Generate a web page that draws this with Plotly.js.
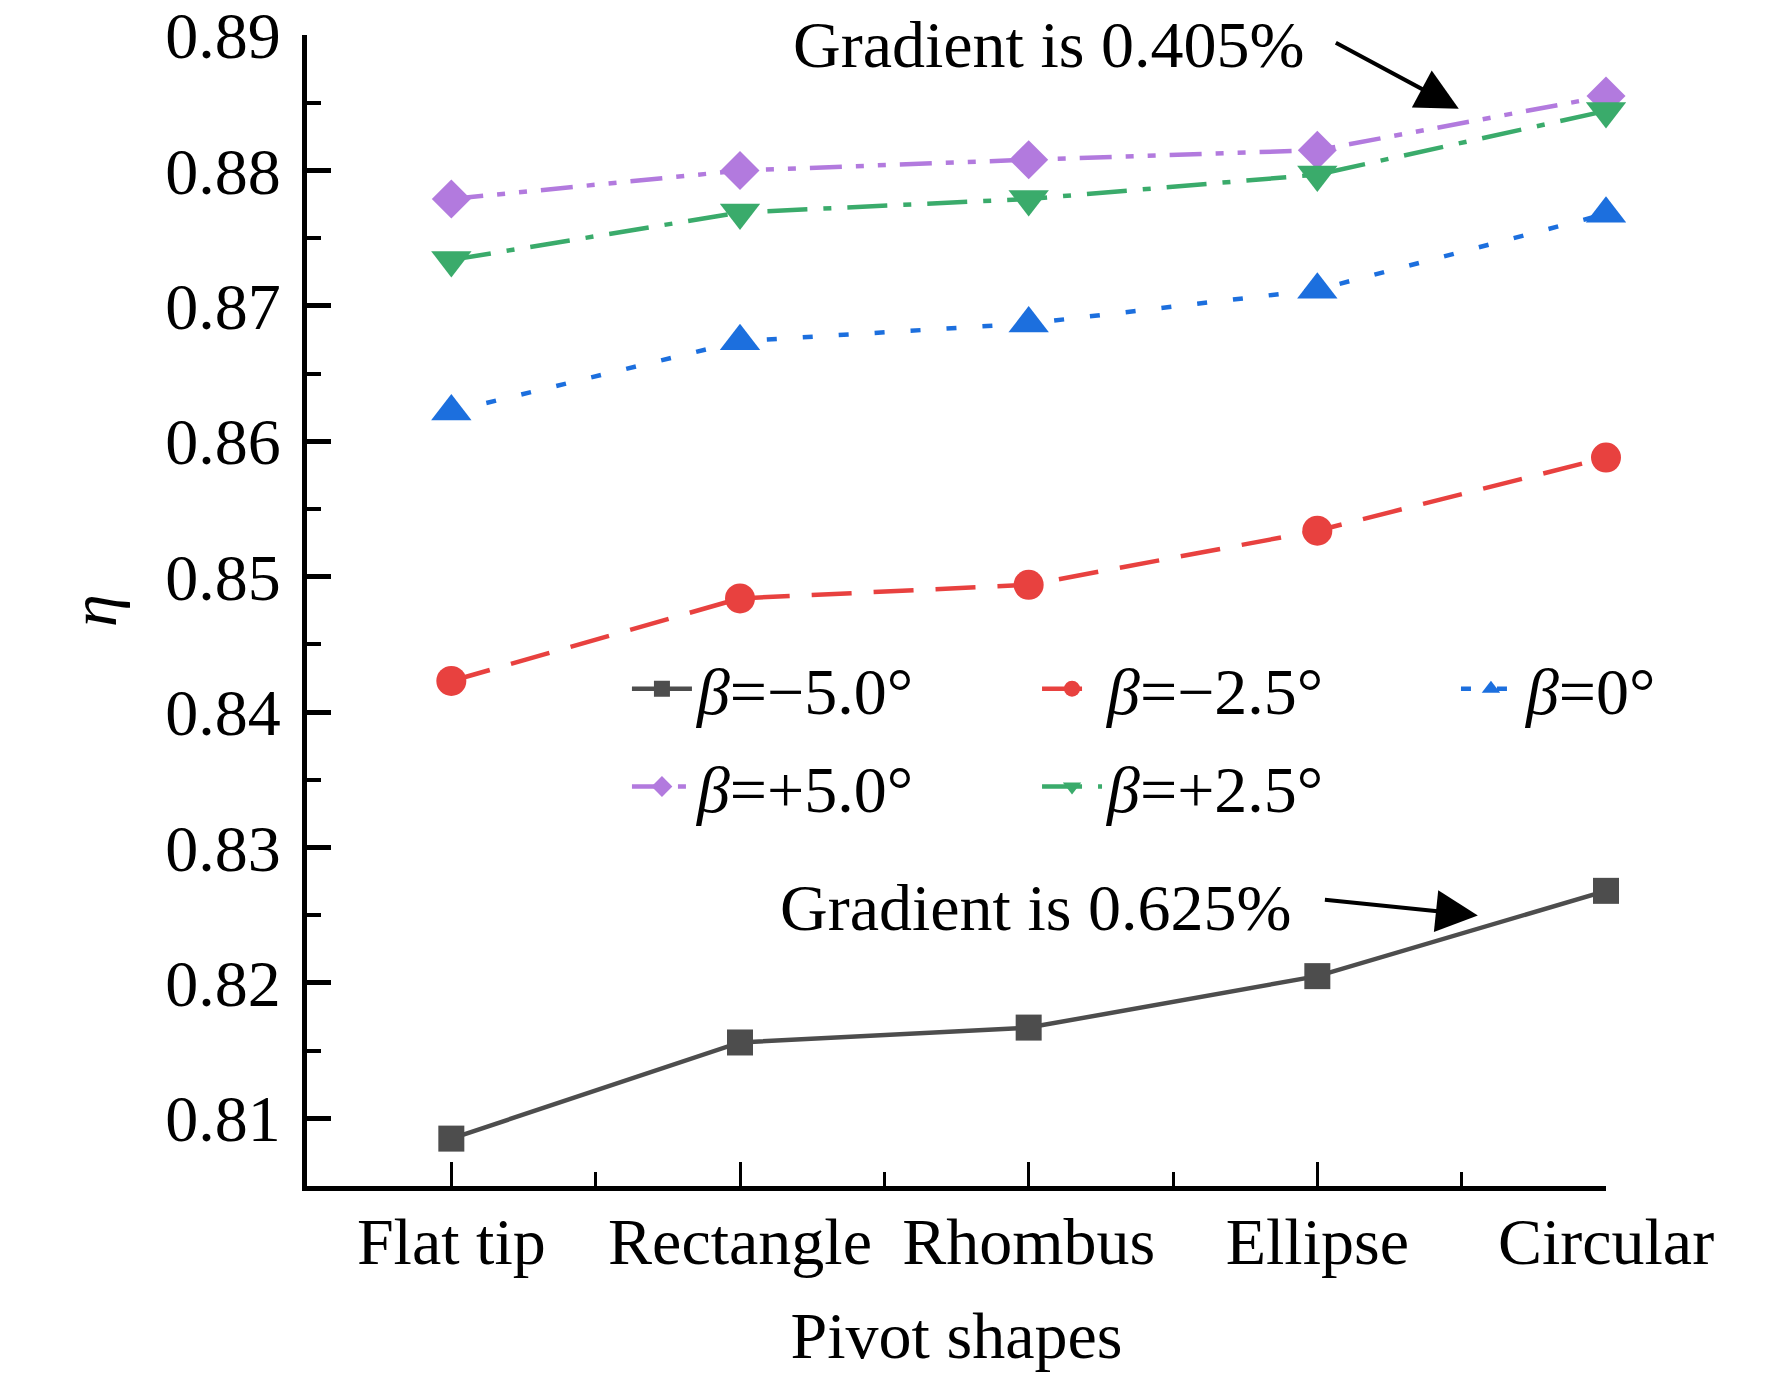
<!DOCTYPE html>
<html>
<head>
<meta charset="utf-8">
<script src="https://cdn.plot.ly/plotly-3.0.1.min.js"></script>
<style>
  html, body { margin: 0; padding: 0; background: #fff; }
  #myPlot { width: 1772px; height: 1378px; }
</style>
</head>
<body>
<div id="myPlot"></div>
<script>
// pivot shapes on the x axis
const shapes = ["Flat tip", "Rectangle", "Rhombus", "Ellipse", "Circular"];
const xPos = [0, 1, 2, 3, 4];
const yTicks = [0.81, 0.82, 0.83, 0.84, 0.85, 0.86, 0.87, 0.88, 0.89];

// efficiency eta for each blade angle
const etaMinus50 = [0.8085, 0.8156, 0.8167, 0.8205, 0.8268];
const etaMinus25 = [0.8423, 0.8484, 0.8494, 0.8534, 0.8588];
const etaZero = [0.8622, 0.8674, 0.8687, 0.8712, 0.8768];
const etaPlus50 = [0.8779, 0.8800, 0.8808, 0.8815, 0.8855];
const etaPlus25 = [0.8734, 0.8769, 0.8779, 0.8797, 0.8844];

const names = ["<i>β</i>=−5.0°", "<i>β</i>=−2.5°", "<i>β</i>=0°", "<i>β</i>=+5.0°", "<i>β</i>=+2.5°"];

var font = "Liberation Serif, Times New Roman, serif";

const lineMinus50 = {
  x: xPos, y: etaMinus50, name: names[0], legend: "legend", legendgroup: "a",
  mode: "lines+markers", cliponaxis: false,
  line: { color: "#4d4d4d", width: 4.5 },
  marker: { symbol: "square", size: 26, color: "#4d4d4d" },
};
const lineMinus25 = {
  x: xPos, y: etaMinus25, name: names[1], legend: "legend2", legendgroup: "b",
  mode: "lines+markers", cliponaxis: false,
  line: { color: "#e8413f", width: 4.5, dash: "40px,22px" },
  marker: { symbol: "circle", size: 30, color: "#e8413f" },
};
const lineZero = {
  x: xPos, y: etaZero, name: names[2], legend: "legend3", legendgroup: "c",
  mode: "lines+markers", cliponaxis: false,
  line: { color: "#1c6fde", width: 4.5, dash: "10px,26px" },
  marker: { symbol: "triangle-up", size: 35, color: "#1c6fde" },
};
const linePlus50 = {
  x: xPos, y: etaPlus50, name: names[3], legend: "legend", legendgroup: "d",
  mode: "lines+markers", cliponaxis: false,
  line: { color: "#b27ade", width: 4.5, dash: "32px,14px,8px,14px,8px,14px" },
  marker: { symbol: "diamond", size: 30, color: "#b27ade" },
};
const linePlus25 = {
  x: xPos, y: etaPlus25, name: names[4], legend: "legend2", legendgroup: "e",
  mode: "lines+markers", cliponaxis: false,
  line: { color: "#3aab6b", width: 4.5, dash: "40px,16px,8px,16px" },
  marker: { symbol: "triangle-down", size: 35, color: "#3aab6b" },
};

var data = [lineMinus50, lineMinus25, lineZero, linePlus50, linePlus25];

function legendAt(x) {
  return {
    orientation: "v",
    x: x, y: 0.475, xanchor: "left", yanchor: "top",
    itemwidth: 60,
    tracegroupgap: 9,
    traceorder: "grouped",
    font: { family: font, size: 66, color: "#000" },
    bgcolor: "rgba(0,0,0,0)",
  };
}

var arrowStyle = { text: "", showarrow: true, arrowhead: 2, arrowsize: 2.1, arrowwidth: 4, arrowcolor: "#000" };

var layout = {
  width: 1772,
  height: 1378,
  margin: { l: 307, r: 166, t: 35, b: 192 },
  paper_bgcolor: "#fff",
  plot_bgcolor: "#fff",
  font: { family: font, size: 66, color: "#000" },
  showlegend: true,
  legend: legendAt(0.2463),
  legend2: legendAt(0.562),
  legend3: legendAt(0.8845),
  xaxis: {
    range: [-0.5, 4],
    tickvals: xPos,
    ticktext: shapes,
    ticks: "inside", ticklen: 24, tickwidth: 3, tickcolor: "#000",
    minor: { ticks: "inside", ticklen: 14, tickwidth: 3, tick0: 0, dtick: 0.5, tickcolor: "#000" },
    showline: true, linewidth: 5, linecolor: "#000",
    showgrid: false, zeroline: false,
    ticklabelstandoff: -6,
    ticklabeloverflow: "allow",
    title: { text: "Pivot shapes", font: { family: font, size: 66 }, standoff: 36 },
  },
  yaxis: {
    range: [0.805, 0.89001],
    tickvals: yTicks,
    ticktext: yTicks.map(function (v) { return v.toFixed(2); }),
    ticks: "inside", ticklen: 24, tickwidth: 5, tickcolor: "#000",
    minor: { ticks: "inside", ticklen: 14, tickwidth: 4, dtick: 0.005, tick0: 0.805, tickcolor: "#000" },
    showline: true, linewidth: 5, linecolor: "#000",
    showgrid: false, zeroline: false,
    ticklabelstandoff: 8,
    ticklabeloverflow: "allow",
    title: { text: "<i>η</i>", font: { family: font, size: 66 }, standoff: 29 },
  },
  annotations: [
    {
      x: 2.96, y: 0.8893, xref: "x", yref: "y",
      text: "Gradient is 0.405%", showarrow: false,
      xanchor: "right", yanchor: "middle",
      font: { family: font, size: 66, color: "#000" },
    },
    Object.assign({ x: 3.49, y: 0.88456, ax: 3.059, ay: 0.8895, xref: "x", yref: "y", axref: "x", ayref: "y" }, arrowStyle),
    {
      x: 2.915, y: 0.8256, xref: "x", yref: "y",
      text: "Gradient is 0.625%", showarrow: false,
      xanchor: "right", yanchor: "middle",
      font: { family: font, size: 66, color: "#000" },
    },
    Object.assign({ x: 3.556, y: 0.82498, ax: 3.021, ay: 0.82616, xref: "x", yref: "y", axref: "x", ayref: "y" }, arrowStyle),
  ],
};

Plotly.newPlot("myPlot", data, layout, { displayModeBar: false, staticPlot: true });
</script>
</body>
</html>
